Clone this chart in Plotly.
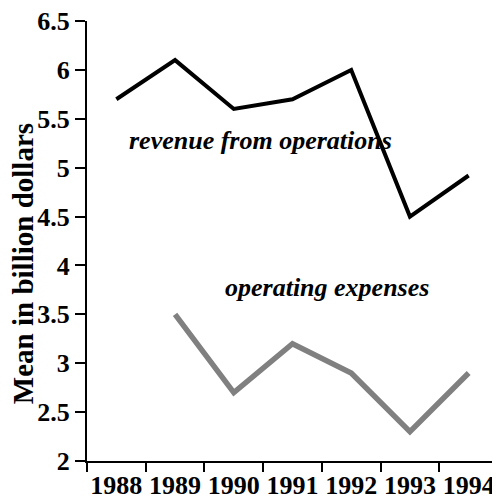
import plotly.graph_objects as go

# data
years = ["1988", "1989", "1990", "1991", "1992", "1993", "1994"]
revenue = [5.7, 6.1, 5.6, 5.7, 6.0, 4.5, 4.92]
expense_years = ["1989", "1990", "1991", "1992", "1993", "1994"]
expenses = [3.5, 2.7, 3.2, 2.9, 2.3, 2.9]

serif = "Liberation Serif"

fig = go.Figure()
fig.add_trace(go.Scatter(x=years, y=revenue, mode="lines",
                         line=dict(color="black", width=4), showlegend=False))
fig.add_trace(go.Scatter(x=expense_years, y=expenses, mode="lines",
                         line=dict(color="#808080", width=5.5), showlegend=False))

label_font = dict(family=serif, size=26, color="black", weight="bold", style="italic")
fig.add_annotation(text="revenue from operations", xref="paper", yref="paper",
                   x=0.423, y=0.729, xanchor="center", yanchor="middle",
                   showarrow=False, font=label_font)
fig.add_annotation(text="operating expenses", xref="paper", yref="paper",
                   x=0.584, y=0.395, xanchor="center", yanchor="middle",
                   showarrow=False, font=label_font)
# y title as an annotation so it can sit a bit below the middle like the original
fig.add_annotation(text="Mean in billion dollars", xref="paper", yref="paper",
                   x=-0.154, y=0.449, xanchor="center", yanchor="middle",
                   textangle=-90, showarrow=False,
                   font=dict(family=serif, size=29, color="black", weight="bold"))

tick_font = dict(family=serif, size=26, color="black", weight="bold")
fig.update_xaxes(type="category", categoryorder="array", categoryarray=years,
                 range=[-0.5, 6.5], tickson="boundaries", ticks="outside",
                 ticklen=9, tickwidth=2, tickcolor="black", tickangle=0,
                 automargin=False, ticklabeloverflow="allow",
                 showline=True, linecolor="black", linewidth=2, showgrid=False,
                 tickfont=tick_font)
fig.update_yaxes(range=[2, 6.5], dtick=0.5, ticks="outside", ticklen=10,
                 tickwidth=2, tickcolor="black", showline=True, linecolor="black",
                 linewidth=2, showgrid=False, zeroline=False, automargin=False,
                 ticklabeloverflow="allow", tickfont=tick_font)

# page body has an 8px margin, so the figure is a bit smaller than the window
fig.update_layout(width=492, height=493, margin=dict(l=79, r=2, t=13, b=40),
                  plot_bgcolor="white", paper_bgcolor="white")

fig.write_html("out.html")
